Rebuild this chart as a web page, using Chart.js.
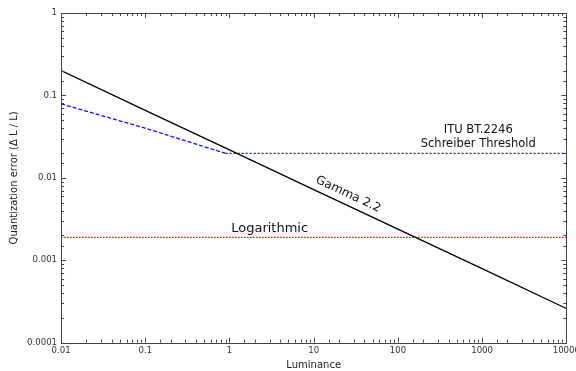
<!DOCTYPE html>
<html>
<head>
<meta charset="utf-8">
<script src="https://cdn.jsdelivr.net/npm/chart.js@4.4.1/dist/chart.umd.min.js"></script>
<style>
html,body{margin:0;padding:0;background:#fff;overflow:hidden;width:576px;height:371px;}
#wrap{width:583px;height:371px;position:relative;}
</style>
</head>
<body>
<div id="wrap"><canvas id="c"></canvas></div>
<script>
// ---- data ----
const gammaLum = [0.01, 0.1, 1, 10, 100, 1000, 10000];
const gammaErr = [0.2, 0.066, 0.0218, 0.0072, 0.00239, 0.00079, 0.00026];

const schreiberLum = [0.01, 0.1, 0.9, 10, 100, 1000, 10000];
const schreiberErr = [0.079, 0.040, 0.0198, 0.0198, 0.0198, 0.0198, 0.0198];

const logLum = [0.01, 10000];
const logErr = [0.0019, 0.0019];

const xTickLabels = ['0.01', '0.1', '1', '10', '100', '1000', '10000'];
const yTickLabels = ['0.0001', '0.001', '0.01', '0.1', '1'];

const pts = (xs, ys) => xs.map((x, i) => ({x: x, y: ys[i]}));

const FONT = "'DejaVu Sans', sans-serif";

// text annotations anchored in data coordinates
const notes = [
  {text: 'ITU BT.2246', x: 900, y: 0.0385, size: 11.5, rot: 0},
  {text: 'Schreiber Threshold', x: 900, y: 0.0256, size: 11.5, rot: 0},
  {text: 'Gamma 2.2', x: 25.7, y: 0.0063, size: 12, rot: 25.2},
  {text: 'Logarithmic', x: 3.0, y: 0.00245, size: 13, rot: 0}
];

const isMajor = v => Math.abs(Math.log10(v) - Math.round(Math.log10(v))) < 1e-9;

const framePlugin = {
  id: 'frame',
  afterDatasetsDraw(chart) {
    const {ctx, chartArea: a, scales} = chart;
    ctx.save();
    ctx.strokeStyle = '#444';
    ctx.lineWidth = 1;
    ctx.beginPath();
    scales.x.ticks.forEach(t => {
      const px = Math.round(scales.x.getPixelForValue(t.value)) + 0.5;
      const L = isMajor(t.value) ? 5 : 3;
      ctx.moveTo(px, a.bottom); ctx.lineTo(px, a.bottom - L);
      ctx.moveTo(px, a.top); ctx.lineTo(px, a.top + L);
    });
    scales.y.ticks.forEach(t => {
      const py = Math.round(scales.y.getPixelForValue(t.value)) + 0.5;
      const L = isMajor(t.value) ? 5 : 3;
      ctx.moveTo(a.left, py); ctx.lineTo(a.left + L, py);
      ctx.moveTo(a.right, py); ctx.lineTo(a.right - L, py);
    });
    ctx.stroke();
    ctx.strokeRect(Math.round(a.left) + 0.5, Math.round(a.top) + 0.5,
                   Math.round(a.right - a.left), Math.round(a.bottom - a.top));
    ctx.fillStyle = '#111';
    ctx.textAlign = 'center';
    ctx.textBaseline = 'middle';
    notes.forEach(n => {
      const px = scales.x.getPixelForValue(n.x);
      const py = scales.y.getPixelForValue(n.y);
      ctx.save();
      ctx.translate(px, py);
      ctx.rotate(n.rot * Math.PI / 180);
      ctx.font = n.size + 'px ' + FONT;
      ctx.fillText(n.text, 0, 0);
      ctx.restore();
    });
    ctx.restore();
  }
};

new Chart(document.getElementById('c'), {
  type: 'line',
  data: {
    datasets: [
      {
        label: 'Gamma 2.2',
        data: pts(gammaLum, gammaErr),
        borderColor: '#000',
        borderWidth: 1.3,
        pointRadius: 0,
        tension: 0
      },
      {
        label: 'ITU BT.2246 Schreiber Threshold',
        data: pts(schreiberLum, schreiberErr),
        borderColor: '#1010ff',
        borderWidth: 1.3,
        pointRadius: 0,
        tension: 0,
        segment: {
          borderDash: c => c.p0DataIndex < 2 ? [4, 2] : [2, 2]
        }
      },
      {
        label: 'Logarithmic',
        data: pts(logLum, logErr),
        borderColor: '#e00000',
        borderWidth: 1.2,
        borderDash: [1.5, 1.5],
        pointRadius: 0
      }
    ]
  },
  options: {
    responsive: true,
    maintainAspectRatio: false,
    animation: false,
    layout: {padding: {left: 8, right: 0, top: 13, bottom: 0}},
    plugins: {legend: {display: false}, tooltip: {enabled: false}},
    scales: {
      x: {
        type: 'logarithmic',
        min: 0.01, max: 10000,
        grid: {display: false, drawTicks: false},
        border: {display: false},
        ticks: {
          autoSkip: false, maxRotation: 0, padding: 3,
          color: '#333', font: {family: FONT, size: 8.6},
          callback: v => isMajor(v) ? xTickLabels[Math.round(Math.log10(v)) + 2] : ''
        },
        title: {display: true, text: 'Luminance', color: '#222',
                font: {family: FONT, size: 10}, padding: {top: 0, bottom: 0}}
      },
      y: {
        type: 'logarithmic',
        min: 0.0001, max: 1,
        grid: {display: false, drawTicks: false},
        border: {display: false},
        ticks: {
          autoSkip: false, padding: 4,
          color: '#333', font: {family: FONT, size: 8.6},
          callback: v => isMajor(v) ? yTickLabels[Math.round(Math.log10(v)) + 4] : ''
        },
        title: {display: true, text: 'Quantization error (Δ L / L)', color: '#222',
                font: {family: FONT, size: 10}, padding: {top: 0, bottom: 3}}
      }
    }
  },
  plugins: [framePlugin]
});
</script>
</body>
</html>
